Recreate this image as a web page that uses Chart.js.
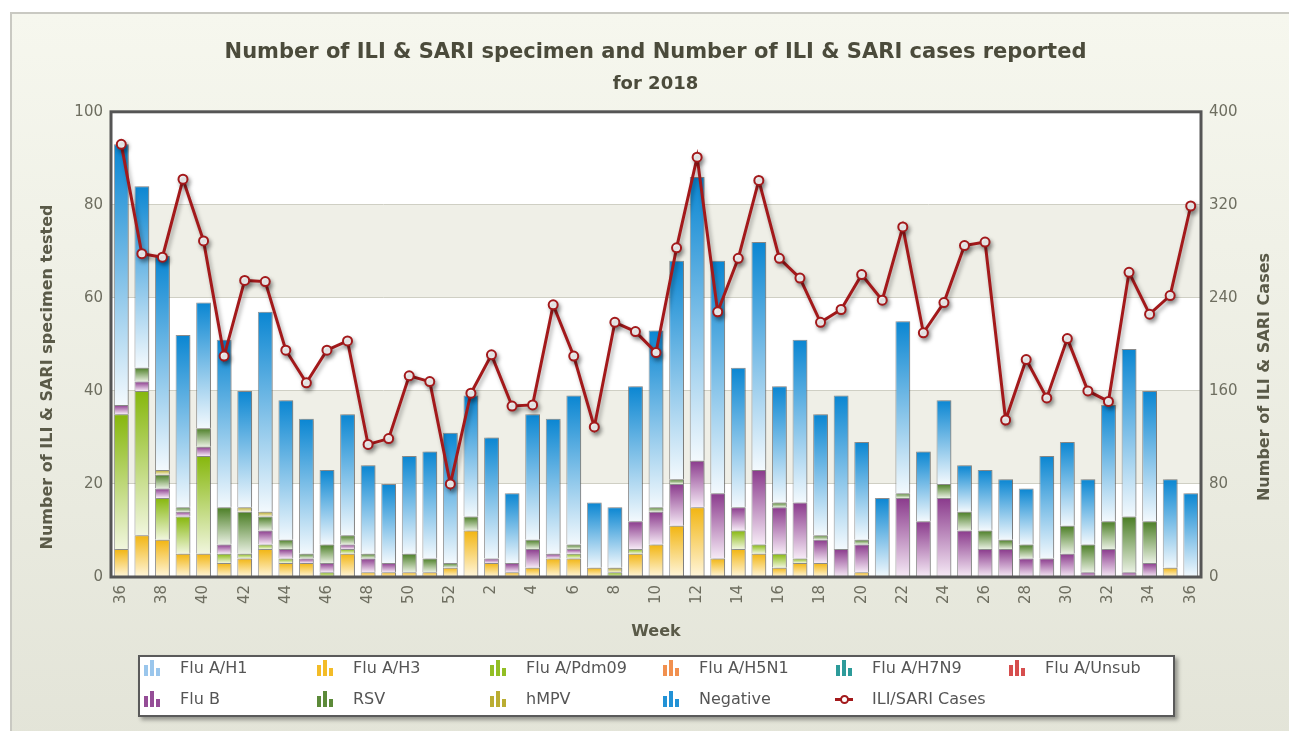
<!DOCTYPE html>
<html>
<head>
<meta charset="utf-8">
<script src="https://cdn.jsdelivr.net/npm/chart.js@4.4.1/dist/chart.umd.min.js"></script>
<style>
  html, body { margin: 0; padding: 0; width: 1289px; height: 731px; overflow: hidden; background: #fff; font-family: "DejaVu Sans", Verdana, sans-serif; }
  #card { position: absolute; left: 10px; top: 12px; width: 1290px; height: 730px; box-sizing: border-box; border: 2px solid #c9c9c2; background: linear-gradient(#f6f7ee, #e3e4d8); }
  #chart { position: absolute; left: 0; top: 0; }
  #legend { position: absolute; left: 138px; top: 655px; width: 1037px; height: 62px; box-sizing: border-box; border: 2px solid #5a5a5a; background: #fff; box-shadow: 3px 3px 4px rgba(0,0,0,0.35); }
  .item { position: absolute; height: 20px; line-height: 20px; font-size: 16px; color: #555; white-space: nowrap; }
  .icon { position: absolute; left: 0; top: 2px; width: 18px; height: 16px; }
  .icon i { position: absolute; bottom: 0; width: 4px; }
  .item .t { position: absolute; left: 37px; top: 0; }
</style>
</head>
<body>
<div id="card"></div>
<canvas id="chart" width="1289" height="731"></canvas>
<div id="legend"></div>

<script>
// ====================== DATA ======================
const weeks = ['36','37','38','39','40','41','42','43','44','45','46','47','48','49','50','51','52',
  '1','2','3','4','5','6','7','8','9','10','11','12','13','14','15','16','17','18','19','20',
  '21','22','23','24','25','26','27','28','29','30','31','32','33','34','35','36'];

const fluAH1   = [0,0,0,0,0,0,0,0,0,0,0,0,0,0,0,0,0,0,0,0,0,0,0,0,0,0,0,0,0,0,0,0,0,0,0,0,0,0,0,0,0,0,0,0,0,0,0,0,0,0,0,0,0];
const fluAH3   = [6,9,8,5,5,3,4,6,3,3,0,5,1,1,1,1,2,10,3,1,2,4,4,2,0,5,7,11,15,4,6,5,2,3,3,0,1,0,0,0,0,0,0,0,0,0,0,0,0,0,0,2,0];
const fluAPdm  = [29,31,9,8,21,2,1,1,1,0,1,1,0,0,0,0,0,0,0,0,0,0,1,0,1,1,0,0,0,0,4,2,3,1,0,0,0,0,0,0,0,0,0,0,0,0,0,0,0,0,0,0,0];
const fluAH5N1 = [0,0,0,0,0,0,0,0,0,0,0,0,0,0,0,0,0,0,0,0,0,0,0,0,0,0,0,0,0,0,0,0,0,0,0,0,0,0,0,0,0,0,0,0,0,0,0,0,0,0,0,0,0];
const fluAH7N9 = [0,0,0,0,0,0,0,0,0,0,0,0,0,0,0,0,0,0,0,0,0,0,0,0,0,0,0,0,0,0,0,0,0,0,0,0,0,0,0,0,0,0,0,0,0,0,0,0,0,0,0,0,0];
const fluAUns  = [0,0,0,0,0,0,0,0,0,0,0,0,0,0,0,0,0,0,0,0,0,0,0,0,0,0,0,0,0,0,0,0,0,0,0,0,0,0,0,0,0,0,0,0,0,0,0,0,0,0,0,0,0];
const fluB     = [2,2,2,1,2,2,0,3,2,1,2,1,3,2,0,0,0,0,1,2,4,1,1,0,0,6,7,9,10,14,5,16,10,12,5,6,6,0,17,12,17,10,6,6,4,4,5,1,6,1,3,0,0];
const rsv      = [0,3,3,1,4,8,9,3,2,1,4,2,1,0,4,3,1,3,0,0,2,0,1,0,0,0,1,1,0,0,0,0,1,0,1,0,1,0,1,0,3,4,4,2,3,0,6,6,6,12,9,0,0];
const hmpv     = [0,0,1,0,0,0,1,1,0,0,0,0,0,0,0,0,0,0,0,0,0,0,0,0,1,0,0,0,0,0,0,0,0,0,0,0,0,0,0,0,0,0,0,0,0,0,0,0,0,0,0,0,0];
const negative = [56,39,46,37,27,36,25,43,30,29,16,26,19,17,21,23,28,26,26,15,27,29,32,14,13,29,38,47,61,50,30,49,25,35,26,33,21,17,37,15,18,10,13,13,12,22,18,14,25,36,28,19,18];
const iliSari  = [372,278,275,342,289,190,255,254,195,167,195,203,114,119,173,168,80,158,191,147,148,234,190,129,219,211,
  193,283,361,228,274,341,274,257,219,230,260,238,301,210,236,285,288,135,187,154,205,160,151,262,226,242,319];

const barNames  = ['Flu A/H1','Flu A/H3','Flu A/Pdm09','Flu A/H5N1','Flu A/H7N9','Flu A/Unsub','Flu B','RSV','hMPV','Negative'];
const barSeries = [fluAH1, fluAH3, fluAPdm, fluAH5N1, fluAH7N9, fluAUns, fluB, rsv, hmpv, negative];
const barColors = ['#8fc0ea','#f2b511','#86b70c','#f0843c','#16908f','#d23b3b','#8a3a8c','#4a7d24','#b3a41c','#0a86d2'];
const barPale   = ['#eef6fd','#fff6dc','#f1f6de','#fdeee2','#e0f2f2','#fbe4e4','#f6eaf6','#e9f0e2','#f6f3dc','#f3f9fd'];
const lineName  = 'ILI/SARI Cases';
const lineColor = '#a3191b';

// ====================== HELPERS ======================
function segmentFill(d) {
  return (c) => {
    const chart = c.chart;
    if (!chart.chartArea || c.type !== 'data') return barColors[d];
    const y = chart.scales.y;
    const i = c.dataIndex;
    let base = 0;
    for (let k = 0; k < d; k++) base += barSeries[k][i];
    const top = y.getPixelForValue(base + barSeries[d][i]);
    const bot = y.getPixelForValue(base);
    if (bot - top < 1) return barColors[d];
    const g = chart.ctx.createLinearGradient(0, top, 0, bot);
    g.addColorStop(0, barColors[d]);
    g.addColorStop(1, barPale[d]);
    return g;
  };
}

const decor = {
  id: 'decor',
  beforeDraw(chart) {
    const { ctx, chartArea: a, scales: { y } } = chart;
    ctx.save();
    ctx.fillStyle = '#fff';
    ctx.fillRect(a.left, a.top, a.width, a.height);
    ctx.fillStyle = '#efefe7';
    const t = y.ticks;
    for (let k = 1; k < t.length - 1; k += 2) {
      const p0 = y.getPixelForValue(t[k + 1].value), p1 = y.getPixelForValue(t[k].value);
      ctx.fillRect(a.left, p0, a.width, p1 - p0);
    }
    ctx.restore();
  },
  beforeDatasetDraw(chart, args) {
    const ctx = chart.ctx;
    ctx.save();
    if (args.meta.type === 'line') {
      ctx.shadowColor = 'rgba(0,0,0,0.35)';
      ctx.shadowBlur = 4; ctx.shadowOffsetX = 2; ctx.shadowOffsetY = 3;
    } else {
      ctx.shadowColor = 'rgba(0,0,0,0.22)';
      ctx.shadowBlur = 2; ctx.shadowOffsetX = 2; ctx.shadowOffsetY = 0;
    }
  },
  afterDatasetDraw(chart) { chart.ctx.restore(); },
  afterDraw(chart) {
    const { ctx, chartArea: a } = chart;
    ctx.save();
    ctx.strokeStyle = '#555';
    ctx.lineWidth = 3;
    ctx.strokeRect(a.left, a.top, a.width, a.height);

    ctx.fillStyle = '#5a5a48';
    ctx.font = 'bold 16px "DejaVu Sans"';
    ctx.textAlign = 'center';
    ctx.textBaseline = 'middle';
    ctx.fillText('Week', (a.left + a.right) / 2, 632);
    [[48, 'Number of ILI & SARI specimen tested'], [1265, 'Number of ILI & SARI Cases']].forEach(([x, txt]) => {
      ctx.save();
      ctx.translate(x, 377);
      ctx.rotate(-Math.PI / 2);
      ctx.fillText(txt, 0, 0);
      ctx.restore();
    });
    ctx.restore();
  }
};

// ====================== CHART ======================
const tickFont = { family: 'DejaVu Sans', size: 15 };
const tickColor = '#6e6e60';

const datasets = barSeries.map((arr, d) => ({
  type: 'bar',
  label: barNames[d],
  data: arr.map(v => v || null),
  yAxisID: 'y',
  order: 1,
  backgroundColor: segmentFill(d),
  borderColor: 'rgba(110,110,110,0.7)',
  borderWidth: 1,
  categoryPercentage: 1,
  barPercentage: 0.72
}));

datasets.push({
  type: 'line',
  label: lineName,
  data: iliSari,
  yAxisID: 'y2',
  order: 0,
  borderColor: lineColor,
  borderWidth: 3,
  tension: 0,
  pointRadius: 4.5,
  pointBackgroundColor: '#fff',
  pointBorderColor: lineColor,
  pointBorderWidth: 2
});

new Chart(document.getElementById('chart'), {
  data: { labels: weeks, datasets: datasets },
  plugins: [decor],
  options: {
    responsive: false,
    animation: false,
    layout: { padding: { left: 22, right: 0, top: 0, bottom: 81 } },
    plugins: {
      legend: { display: false },
      tooltip: { enabled: false },
      title: {
        display: true,
        text: 'Number of ILI & SARI specimen and Number of ILI & SARI cases reported',
        font: { family: 'DejaVu Sans', size: 21, weight: 'bold' },
        color: '#4b4b3b',
        padding: { top: 40, bottom: 8 }
      },
      subtitle: {
        display: true,
        text: 'for 2018',
        font: { family: 'DejaVu Sans', size: 18, weight: 'bold' },
        color: '#4b4b3b',
        padding: { top: 0, bottom: 17 }
      }
    },
    scales: {
      x: {
        stacked: true,
        grid: { display: false, drawTicks: false },
        border: { display: false },
        ticks: {
          autoSkip: false, maxRotation: 90, minRotation: 90, padding: 8,
          font: tickFont, color: tickColor,
          callback: (v, i) => (i % 2 === 0 ? weeks[i] : '')
        },
        afterFit: s => { s.height = 73; }
      },
      y: {
        stacked: true, position: 'left', min: 0, max: 100,
        grid: { color: '#cfcfc4', drawTicks: false },
        border: { display: false },
        ticks: { stepSize: 20, padding: 8, font: tickFont, color: tickColor },
        afterFit: s => { s.width = 89; }
      },
      y2: {
        position: 'right', min: 0, max: 400,
        grid: { drawOnChartArea: false, drawTicks: false },
        border: { display: false },
        ticks: { stepSize: 80, padding: 8, font: tickFont, color: tickColor },
        afterFit: s => { s.width = 88; }
      }
    }
  }
});

// ====================== LEGEND ======================
function buildLegend() {
  const box = document.getElementById('legend');
  const items = barNames.map((n, d) => ({ name: n, color: barColors[d], bar: true }));
  items.push({ name: lineName, color: lineColor, bar: false });
  box.innerHTML = items.map((it, k) => {
    const col = k % 6, row = Math.floor(k / 6);
    const left = 3 + col * 173, top = 1 + row * 31;
    let icon;
    if (it.bar) {
      icon = [[1, 11], [7, 16], [13, 8]].map(([x, h]) =>
        `<i style="left:${x}px;height:${h}px;background:${it.color};opacity:0.9"></i>`).join('');
    } else {
      icon = `<i style="left:0;bottom:6px;width:18px;height:3px;background:${it.color}"></i>` +
             `<i style="left:5px;bottom:3px;width:5px;height:5px;border:2px solid ${it.color};border-radius:50%;background:#fff"></i>`;
    }
    return `<div class="item" style="left:${left}px;top:${top}px"><span class="icon">${icon}</span><span class="t">${it.name}</span></div>`;
  }).join('');
}
buildLegend();
</script>
</body>
</html>
